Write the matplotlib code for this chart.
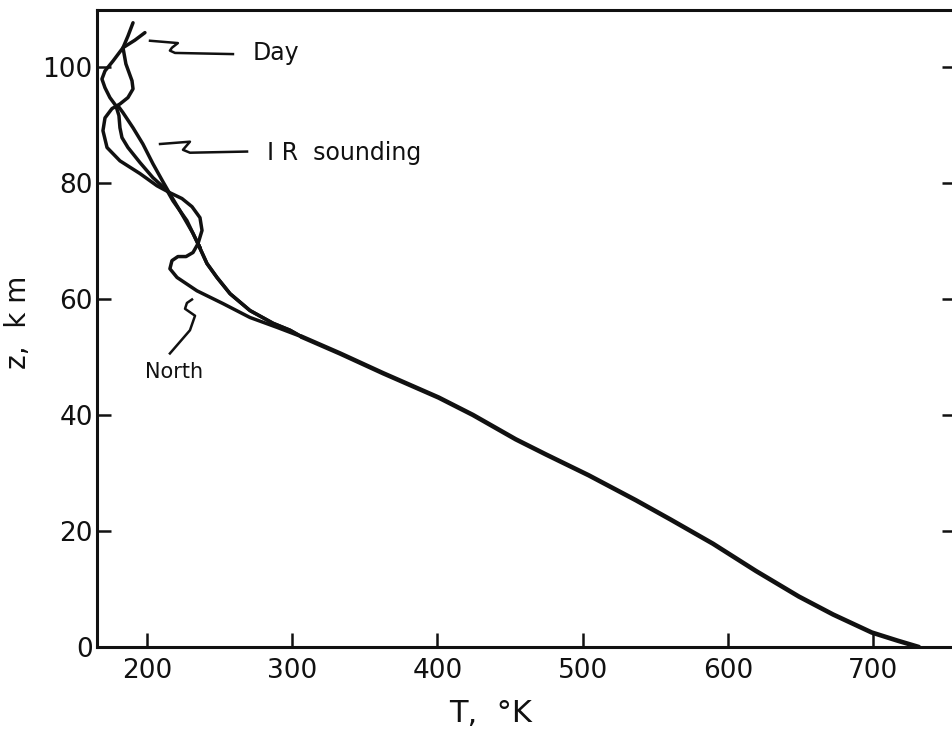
import matplotlib

matplotlib.use("Agg")
import matplotlib.pyplot as plt

# Temperature profiles, T in K against altitude z in km.
# Below ~53 km the three soundings share one profile down to the surface.
lower_T = [306.3, 332.9, 362.5, 400.8, 424.4, 453.9, 474.6, 504.1, 536.6,
           560.3, 589.7, 619.3, 648.8, 672.4, 699.0, 716.7, 731.4]
lower_z = [53.5, 50.6, 47.2, 43.0, 40.0, 35.8, 33.2, 29.6, 25.3,
           22.0, 17.8, 13.1, 8.7, 5.6, 2.5, 1.1, 0.0]

# branch shared by the day and IR profiles between ~69 and ~53 km
steep_T = [235.1, 241.3, 248.2, 257.2, 270.9, 286.8, 298.5, 306.3]
steep_z = [69.5, 66.1, 63.7, 60.9, 58.0, 55.8, 54.6, 53.5]

day_T = [198.6, 191.7, 183.5, 176.6, 171.1, 169.0, 171.1, 174.5, 178.6,
         180.7, 181.4, 182.8, 186.9, 195.2, 204.1, 213.8, 217.9, 227.5, 235.1]
day_z = [105.9, 104.6, 103.3, 101.0, 99.3, 97.9, 96.4, 94.7, 93.3,
         91.6, 89.5, 87.8, 86.1, 83.5, 80.9, 78.7, 76.9, 73.5, 69.5]

ir_T = [180.0, 183.5, 190.4, 197.2, 204.1, 211.0, 215.8, 222.7, 231.7, 236.5, 235.1]
ir_z = [93.3, 92.1, 89.5, 86.7, 83.3, 80.2, 78.1, 75.2, 71.3, 68.8, 69.5]

north_T = [190.4, 186.9, 183.5, 185.5, 189.7, 190.4, 186.9, 181.4, 175.9,
           171.1, 169.7, 172.5, 181.4, 195.2, 206.9, 215.8, 224.1, 231.0,
           236.5, 237.9, 235.1, 231.7, 226.9, 221.3, 217.2, 215.8, 220.7,
           234.4, 252.3, 270.9, 289.5, 306.3]
north_z = [107.6, 105.3, 103.3, 100.5, 97.6, 96.2, 94.7, 93.6, 92.8,
           91.2, 89.0, 86.1, 83.8, 81.6, 79.5, 78.3, 77.3, 75.9,
           74.0, 71.8, 69.5, 68.0, 67.3, 67.3, 66.6, 65.2, 63.7,
           61.4, 59.2, 56.8, 55.1, 53.5]

x_ticks = [200, 300, 400, 500, 600, 700]
y_ticks = [0, 20, 40, 60, 80, 100]

# hand-drawn leader squiggles for the curve labels
day_lead_T = [202.1, 221.3, 217.2, 215.8, 219.3, 259.2]
day_lead_z = [104.5, 104.1, 103.3, 102.8, 102.4, 102.2]
ir_lead_T = [209.0, 229.6, 224.8, 229.6, 268.9]
ir_lead_z = [86.7, 87.1, 85.7, 85.2, 85.4]
north_lead_T = [231.0, 227.5, 226.2, 233.1, 229.6, 215.8]
north_lead_z = [59.9, 59.3, 58.3, 57.1, 54.6, 50.6]

INK = "#111111"


def draw_profile(ax, t: list[float], z: list[float], lw: float) -> None:
    ax.plot(t, z, color=INK, lw=lw, solid_joinstyle="round",
            solid_capstyle="round")


fig = plt.figure(figsize=(9.52, 7.34), dpi=100)
ax = fig.add_axes([97 / 952, 87 / 734, 859 / 952, 637 / 734])

draw_profile(ax, lower_T, lower_z, 3.3)
draw_profile(ax, day_T + steep_T, day_z + steep_z, 2.5)
draw_profile(ax, ir_T + steep_T, ir_z + steep_z, 2.5)
draw_profile(ax, north_T, north_z, 2.5)

for lt, lz in [(day_lead_T, day_lead_z), (ir_lead_T, ir_lead_z),
               (north_lead_T, north_lead_z)]:
    ax.plot(lt, lz, color=INK, lw=1.8, solid_joinstyle="round")

ax.text(273.0, 101.2, "Day", fontsize=17, color=INK, va="baseline")
ax.text(282.6, 84.0, "I R  sounding", fontsize=17, color=INK, va="baseline")
ax.text(198.6, 46.3, "North", fontsize=15, color=INK, va="baseline")

ax.set_xlim(165.6, 757.0)
ax.set_ylim(0, 109.8)
ax.set_xticks(x_ticks)
ax.set_yticks(y_ticks)

for side in ["left", "bottom", "top", "right"]:
    ax.spines[side].set_linewidth(2.2)
    ax.spines[side].set_color(INK)

ax.tick_params(axis="x", direction="in", length=10, width=1.8,
               labelsize=19, pad=8, colors=INK)
ax.tick_params(axis="y", direction="in", length=10, width=1.8,
               labelsize=19, pad=3, colors=INK, right=True)

ax.set_xlabel("T,  °K", fontsize=22, color=INK, va="center")
ax.xaxis.set_label_coords((491 - 97) / 859, (647 - 713) / 637)
ax.set_ylabel("z,  k m", fontsize=20, color=INK, va="center")
ax.yaxis.set_label_coords((18 - 97) / 859, (647 - 322) / 637)

fig.savefig("out.png", dpi=100)
